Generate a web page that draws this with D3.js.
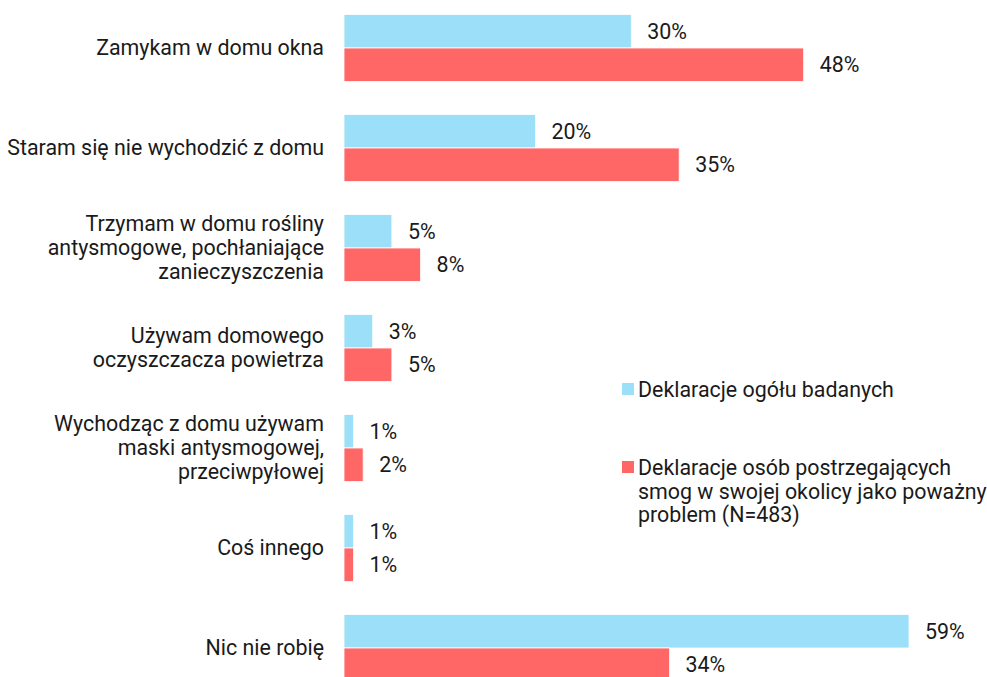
<!DOCTYPE html>
<html>
<head>
<meta charset="utf-8">
<script src="https://cdn.jsdelivr.net/npm/d3@7"></script>
<style>
  body { margin: 0; background: #fff; }
  text { font-family: Roboto, "Noto Sans", sans-serif; fill: #1a1a1a; }
</style>
</head>
<body>
<div id="chart"></div>
<script>
  const svgWidth = 987;
  const svgHeight = 677;

  // data
  const categories = [
    ["Zamykam w domu okna"],
    ["Staram się nie wychodzić z domu"],
    ["Trzymam w domu rośliny", "antysmogowe, pochłaniające", "zanieczyszczenia"],
    ["Używam domowego", "oczyszczacza powietrza"],
    ["Wychodząc z domu używam", "maski antysmogowej,", "przeciwpyłowej"],
    ["Coś innego"],
    ["Nic nie robię"]
  ];
  const seriesNames = [
    ["Deklaracje ogółu badanych"],
    ["Deklaracje osób postrzegających", "smog w swojej okolicy jako poważny", "problem (N=483)"]
  ];
  const allValues = [30, 20, 5, 3, 1, 1, 59];
  const smogValues = [48, 35, 8, 5, 2, 1, 34];
  const colors = ["#9bdff8", "#ff6666"];

  const fontSize = "21.4px";

  const svg = d3.select("#chart")
    .append("svg")
    .attr("width", svgWidth)
    .attr("height", svgHeight);

  const catKeys = categories.map((c, i) => i);

  const xScale = d3.scaleLinear()
    .domain([0, 59])
    .range([344, 909]);

  const yScale = d3.scaleBand()
    .domain(catKeys)
    .range([-2, 698])
    .paddingInner(0.33)
    .paddingOuter(0.165);

  const ySub = d3.scaleBand()
    .domain([0, 1])
    .range([0, yScale.bandwidth()]);

  const rows = catKeys.map(i => ({ i, vals: [allValues[i], smogValues[i]] }));

  const groups = svg.selectAll("g.cat")
    .data(rows)
    .enter()
    .append("g")
    .attr("class", "cat")
    .attr("transform", d => `translate(0, ${yScale(d.i)})`);

  groups.selectAll("rect")
    .data(d => d.vals.map((v, s) => ({ v, s })))
    .enter()
    .append("rect")
    .attr("x", xScale(0))
    .attr("y", d => ySub(d.s))
    .attr("width", d => xScale(d.v) - xScale(0))
    .attr("height", ySub.bandwidth())
    .attr("fill", d => colors[d.s])
    .attr("stroke", "#fff")
    .attr("stroke-width", 0.8);

  groups.selectAll("text.val")
    .data(d => d.vals.map((v, s) => ({ v, s })))
    .enter()
    .append("text")
    .attr("class", "val")
    .attr("x", d => xScale(d.v) + 16)
    .attr("y", d => ySub(d.s) + ySub.bandwidth() / 2)
    .attr("dy", "0.35em")
    .style("font-size", fontSize)
    .text(d => d.v + "%");

  // category labels
  const lineH = 24;
  svg.selectAll("text.cat")
    .data(rows)
    .enter()
    .append("text")
    .attr("class", "cat")
    .attr("text-anchor", "end")
    .style("font-size", fontSize)
    .each(function(d) {
      const lines = categories[d.i];
      const cy = yScale(d.i) + yScale.bandwidth() / 2;
      const start = cy - (lines.length - 1) * lineH / 2;
      d3.select(this).selectAll("tspan")
        .data(lines)
        .enter()
        .append("tspan")
        .attr("x", 324)
        .attr("y", (l, k) => start + k * lineH)
        .attr("dy", "0.35em")
        .text(l => l);
    });

  // legend
  const legendY = [389, 491];
  const legend = svg.selectAll("g.legend")
    .data(seriesNames)
    .enter()
    .append("g")
    .attr("class", "legend")
    .attr("transform", (d, i) => `translate(622, ${legendY[i]})`);

  legend.append("rect")
    .attr("x", 0)
    .attr("y", (d) => -(d.length - 1) * lineH / 2 - 6)
    .attr("width", 12)
    .attr("height", 12)
    .attr("fill", (d, i) => colors[i]);

  legend.append("text")
    .style("font-size", fontSize)
    .each(function(d) {
      const start = -(d.length - 1) * lineH / 2;
      d3.select(this).selectAll("tspan")
        .data(d)
        .enter()
        .append("tspan")
        .attr("x", 16)
        .attr("y", (l, k) => start + k * lineH)
        .attr("dy", "0.35em")
        .text(l => l);
    });
</script>
</body>
</html>
